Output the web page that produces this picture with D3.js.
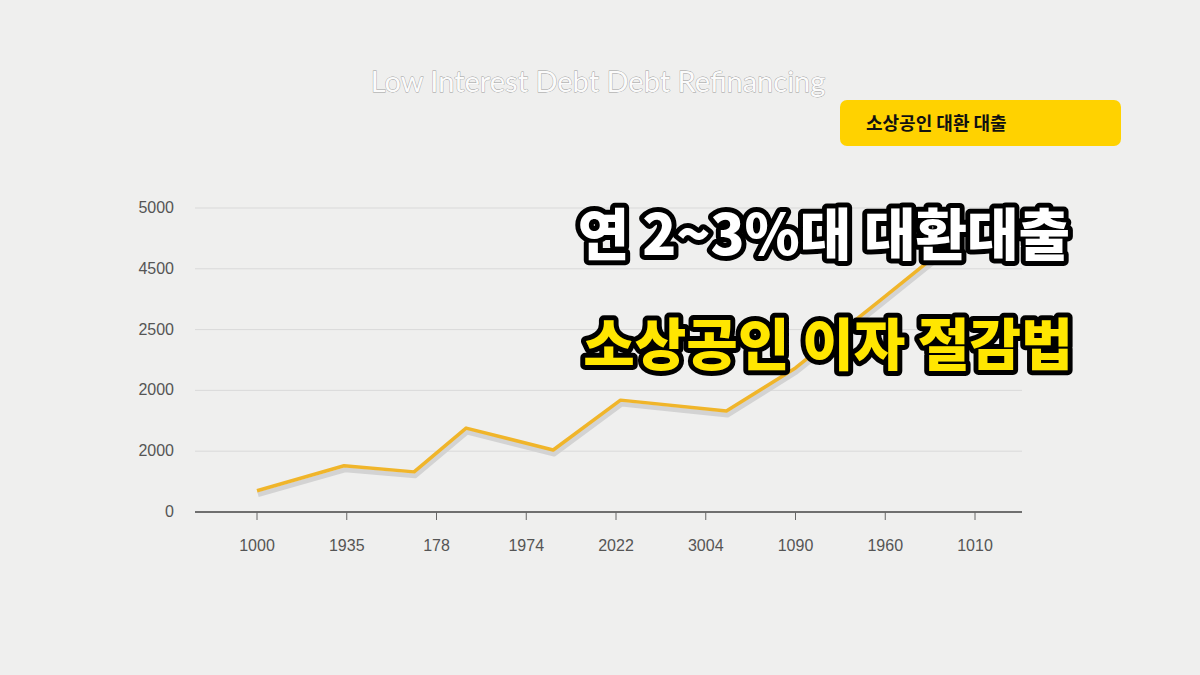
<!DOCTYPE html><html><head><meta charset="utf-8"><script src="https://cdn.jsdelivr.net/npm/d3@7"></script>
<style>body{margin:0;background:#efefee}svg{display:block}</style></head><body><svg id="c" width="1200" height="675"></svg><script>
const xLabels=["1000","1935","178","1974","2022","3004","1090","1960","1010"];
const yTickValues=[0,1000,2000,3000,4000,5000];
const yTickLabels=["0","2000","2000","2500","4500","5000"];
const pointX=[0,0.97,1.75,2.33,3.3,4.05,5.23,6.0,6.95,7.8];
const pointY=[350,760,660,1380,1020,1840,1660,2370,3490,4500];
const svg=d3.select("#c");
svg.append("rect").attr("width",1200).attr("height",675).attr("fill","#efefee");
const x=d3.scaleLinear().domain([0,8]).range([257,975]);
const y=d3.scaleLinear().domain([0,5000]).range([512,208]);
const g=svg.append("g");
yTickValues.forEach((v,i)=>{
  if(i>0) g.append("line").attr("x1",195).attr("x2",1022).attr("y1",y(v)).attr("y2",y(v)).attr("stroke","#d9d9d9").attr("stroke-width",1);
  g.append("text").attr("x",174).attr("y",y(v)+5).attr("text-anchor","end").attr("font-family","Liberation Sans, Arial").attr("font-size",16).attr("fill","#555").text(yTickLabels[i]);
});
g.append("line").attr("x1",195).attr("x2",1022).attr("y1",512).attr("y2",512).attr("stroke","#444").attr("stroke-width",1.5);
xLabels.forEach((l,i)=>{
  g.append("line").attr("x1",x(i)).attr("x2",x(i)).attr("y1",512).attr("y2",520).attr("stroke","#666");
  g.append("text").attr("x",x(i)).attr("y",551).attr("text-anchor","middle").attr("font-family","Liberation Sans, Arial").attr("font-size",16).attr("fill","#555").text(l);
});
const pts=pointX.map((d,i)=>[d,pointY[i]]);
const line=d3.line().x(d=>x(d[0])).y(d=>y(d[1]));
svg.append("path").attr("d",line(pts)).attr("transform","translate(1,4)").attr("fill","none").attr("stroke","#d3d3d3").attr("stroke-width",5).attr("stroke-linejoin","round");
svg.append("path").attr("d",line(pts)).attr("fill","none").attr("stroke","#f0b52a").attr("stroke-width",3.5).attr("stroke-linejoin","round");
svg.append("text").attr("x",598).attr("y",92).attr("text-anchor","middle").attr("font-family","Lato, Noto Sans").attr("font-size",29).attr("fill","#fbfbfb").attr("stroke","#9a9a9a").attr("stroke-width",0.8).attr("paint-order","stroke").text("Low Interest Debt Debt Refinancing");
svg.append("rect").attr("x",840).attr("y",100).attr("width",281).attr("height",46).attr("rx",7).attr("fill","#ffd200");
svg.append("text").attr("x",866).attr("y",130).attr("font-family","Noto Sans CJK KR").attr("font-weight",700).attr("font-size",18).attr("fill","#111").text("소상공인 대환 대출");
function big(t,cx,cy,fill){
  svg.append("text").attr("x",cx).attr("y",cy).attr("text-anchor","middle").attr("font-family","Noto Sans CJK KR").attr("font-weight",900).attr("font-size",56)
   .attr("fill",fill).attr("stroke","#000").attr("stroke-width",10).attr("stroke-linejoin","round").attr("paint-order","stroke").text(t);
}
big("연 2~3%대 대환대출",824,255,"#fff");
big("소상공인 이자 절감법",828,365,"#ffe600");
</script></body></html>
